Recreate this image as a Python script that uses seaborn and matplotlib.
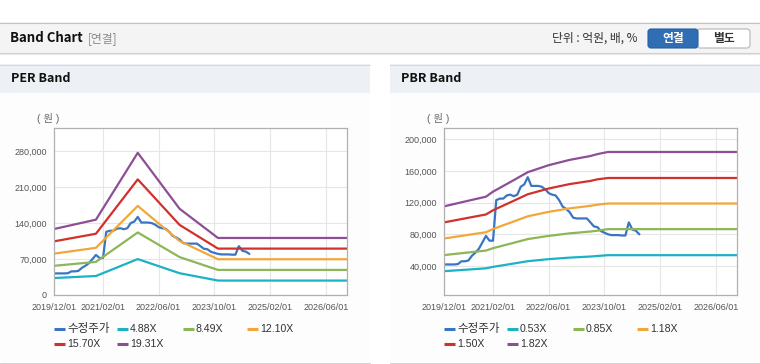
import numpy as np
import pandas as pd
import matplotlib
matplotlib.use("Agg")
import matplotlib.pyplot as plt
import seaborn as sns
from matplotlib.patches import Rectangle, FancyBboxPatch
from matplotlib.ticker import FuncFormatter

sns.set_style("white")
plt.rcParams["font.family"] = ["Liberation Sans", "Noto Sans CJK KR"]

# ---------------- data ----------------
price_dates = pd.date_range("2019-12-01", periods=57, freq="MS")
price = [42000, 42000, 42000, 42000, 42500, 46000, 46000, 47000, 53000, 57000,
         62000, 70000, 78000, 72000, 72000, 123000, 125000, 125000, 129000, 130000,
         128000, 130000, 140000, 143000, 152000, 141000, 141000, 141000, 140000, 137000,
         132000, 130000, 129000, 123000, 115000, 112000, 108000, 101000, 100000, 100000,
         100000, 100000, 95000, 90000, 89000, 84000, 82000, 80000, 79000, 79000,
         79000, 78500, 78500, 95000, 86000, 84500, 80000]

per_dates = ["2019-12-01", "2020-12-01", "2021-12-01", "2022-12-01", "2023-11-01", "2026-12-01"]
per_488 = [33000, 37000, 69900, 42400, 28100, 28100]
per_849 = [56800, 64400, 121700, 73800, 48800, 48800]
per_1210 = [80500, 91800, 173400, 105100, 69600, 69600]
per_1570 = [104400, 119200, 225000, 136400, 90300, 90300]
per_1931 = [128400, 146600, 276700, 167800, 111000, 111000]
per_labels = ["수정주가", "4.88X", "8.49X", "12.10X", "15.70X", "19.31X"]

pbr_dates = ["2019-12-01", "2020-08-01", "2020-12-01", "2021-02-01", "2021-08-01",
             "2021-12-01", "2022-06-01", "2022-12-01", "2023-06-01", "2023-08-01",
             "2023-11-01", "2026-12-01"]
pbr_053 = [33500, 35900, 37100, 39000, 43200, 46100, 48700, 50600, 52000, 52700, 53700, 53700]
pbr_085 = [53800, 57600, 59500, 62500, 69300, 74000, 78000, 81200, 83500, 84600, 86500, 86500]
pbr_118 = [74700, 80000, 82600, 86700, 96200, 102700, 108300, 112700, 115900, 117400, 118800, 118800]
pbr_150 = [95000, 101700, 105000, 110300, 122300, 130500, 137700, 143300, 147300, 149300, 151000, 151000]
pbr_182 = [115200, 123400, 127400, 133800, 148300, 158300, 167100, 173800, 178700, 181100, 183800, 183800]
pbr_labels = ["수정주가", "0.53X", "0.85X", "1.18X", "1.50X", "1.82X"]

x_ticks = ["2019/12/01", "2021/02/01", "2022/06/01", "2023/10/01", "2025/02/01", "2026/06/01"]
per_yticks = [0, 70000, 140000, 210000, 280000]
pbr_yticks = [40000, 80000, 120000, 160000, 200000]

colors = ["#3a75c3", "#1cb2c6", "#8db657", "#f1a73a", "#d1312c", "#8e4e96"]

# ---------------- figure ----------------
W, H = 760, 364
fig = plt.figure(figsize=(W / 100, H / 100), dpi=100)
fig.patch.set_facecolor("white")

bg = fig.add_axes([0, 0, 1, 1], zorder=-5)
bg.set_xlim(0, W)
bg.set_ylim(H, 0)
bg.axis("off")

# header bar
bg.add_patch(Rectangle((0, 22), W, 31, fc="#f4f4f4", ec="none"))
bg.plot([0, W], [22.5, 22.5], color="#c2c2c2", lw=0.8)
bg.plot([0, W], [53, 53], color="#cfcfcf", lw=0.8)
bg.plot([0, W], [54, 54], color="#e8e8e8", lw=0.8)
bg.text(10, 38.5, "Band Chart", fontsize=9.5, fontweight="bold", color="#111111",
        va="center", ha="left", family=["Noto Sans CJK KR"])
bg.text(88, 38.5, "[연결]", fontsize=8.5, color="#8a8a8a", va="center", ha="left",
        family=["Noto Sans CJK KR"])
bg.text(552, 38.5, "단위 : 억원, 배, %", fontsize=8.5, color="#333333", va="center", ha="left",
        family=["Noto Sans CJK KR"])
bg.add_patch(FancyBboxPatch((697, 29), 53, 19, boxstyle="round,pad=0,rounding_size=3",
                            fc="white", ec="#b5b5b5", lw=0.8))
bg.add_patch(FancyBboxPatch((648, 29), 50, 19, boxstyle="round,pad=0,rounding_size=3",
                            fc="#2f6db5", ec="#285f9f", lw=0.8))
bg.text(673, 38.5, "연결", fontsize=8.5, fontweight="bold", color="white", va="center",
        ha="center", family=["Noto Sans CJK KR"])
bg.text(723.5, 38.5, "별도", fontsize=8.5, fontweight="bold", color="#333333", va="center",
        ha="center", family=["Noto Sans CJK KR"])

# panels
for px, pw, title in [(0, 370, "PER Band"), (390, 370, "PBR Band")]:
    bg.add_patch(Rectangle((px, 64), pw, 298, fc="#fdfdfd", ec="none"))
    bg.add_patch(Rectangle((px, 64), pw, 29, fc="#edf0f5", ec="none"))
    bg.plot([px, px + pw], [64.5, 64.5], color="#d8d8d8", lw=0.8)
    bg.plot([px, px + pw], [362.5, 362.5], color="#d3d3d3", lw=0.8)
    bg.text(px + 11, 79, title, fontsize=9, fontweight="bold", color="#111111",
            va="center", ha="left", family=["Noto Sans CJK KR"])
    bg.text(px + 37, 118, "( 원 )", fontsize=7.5, color="#666666", va="center", ha="left")


def draw(left_px, bdates, bands, labels, ylim, yticks):
    ax = fig.add_axes([left_px / W, 1 - 295 / H, 293 / W, 167 / H])
    ax.set_facecolor("white")
    df = pd.DataFrame({"date": price_dates, "v": price})
    sns.lineplot(data=df, x="date", y="v", ax=ax, color=colors[0], lw=1.6)
    bd = pd.to_datetime(bdates)
    for vals, c in zip(bands, colors[1:]):
        d = pd.DataFrame({"date": bd, "v": vals})
        sns.lineplot(data=d, x="date", y="v", ax=ax, color=c, lw=1.6)
    ax.set_xlim(pd.Timestamp("2019-12-01"), pd.Timestamp("2026-12-01"))
    ax.set_ylim(*ylim)
    ax.set_xticks(pd.to_datetime([t.replace("/", "-") for t in x_ticks]))
    ax.set_xticklabels(x_ticks)
    ax.set_yticks(yticks)
    ax.yaxis.set_major_formatter(FuncFormatter(lambda v, p: f"{int(v):,}"))
    ax.set_xlabel("")
    ax.set_ylabel("")
    ax.grid(True, color="#e6e6e6", lw=0.8)
    ax.set_axisbelow(True)
    for s in ax.spines.values():
        s.set_color("#b0b0b0")
        s.set_linewidth(0.9)
    ax.tick_params(axis="x", length=4, color="#b0b0b0", labelsize=6.5, labelcolor="#555555", pad=2)
    ax.tick_params(axis="y", length=0, labelsize=6.5, labelcolor="#555555", pad=5)

    # legend (fixed-width columns, like the original)
    ox = left_px
    pos = [(0, 0), (63, 0), (129, 0), (193, 0), (0, 1), (63, 1)]
    for (dx, row), c, lab in zip(pos, colors, labels):
        y = 329 + row * 15
        bg.plot([ox + dx, ox + dx + 11], [y, y], color=c, lw=2.2, solid_capstyle="butt")
        fs = 8.3 if lab == "수정주가" else 7.6
        bg.text(ox + dx + 13, y, lab, fontsize=fs, color="#333333", va="center", ha="left")
    return ax


draw(54, per_dates, [per_488, per_849, per_1210, per_1570, per_1931], per_labels,
     (0, 325000), per_yticks)
draw(444, pbr_dates, [pbr_053, pbr_085, pbr_118, pbr_150, pbr_182], pbr_labels,
     (3500, 214000), pbr_yticks)

fig.savefig("out.png", dpi=100, facecolor="white")
